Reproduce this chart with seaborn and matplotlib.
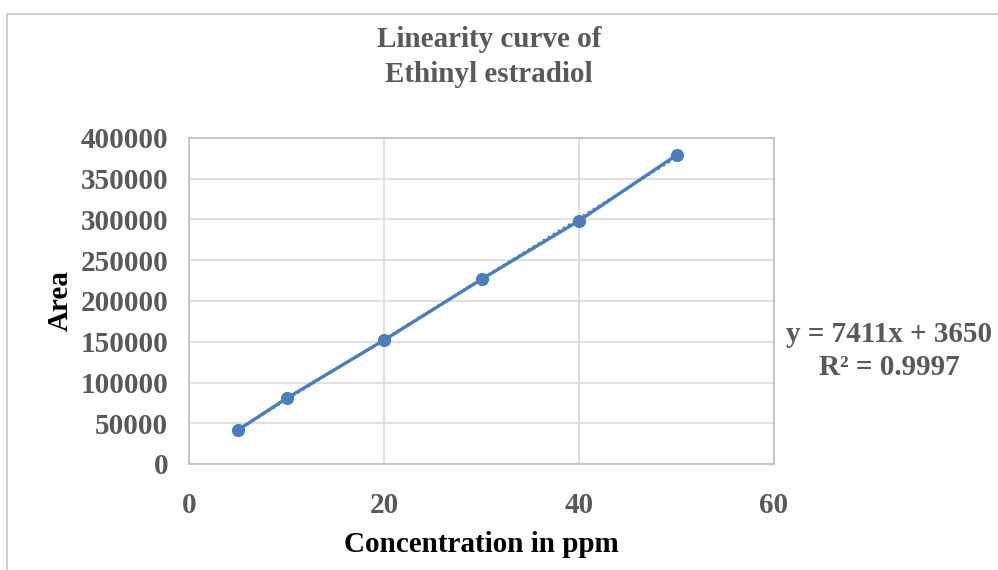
import numpy as np
import pandas as pd
import seaborn as sns
from matplotlib import pyplot as plt
from matplotlib.lines import Line2D

conc = [5, 10, 20, 30, 40, 50]
area = [41500, 80500, 152000, 226600, 298500, 379000]
yticks = [0, 50000, 100000, 150000, 200000, 250000, 300000, 350000, 400000]
xticks = [0, 20, 40, 60]

df = pd.DataFrame({'conc': conc, 'area': area})

sns.set_style('white')
plt.rcParams['font.family'] = ['Liberation Serif', 'DejaVu Serif']
plt.rcParams['font.weight'] = 'bold'

gray = '#595959'
blue = '#4a7ebb'

fig = plt.figure(figsize=(9.98, 5.70), dpi=100)
ax = fig.add_axes([189/998, 1-464/570, (774-189)/998, (464-138)/570])

# trendline (dotted), fitted from the data
slope, icpt = np.polyfit(df['conc'], df['area'], 1)
ax.plot(df['conc'], slope*df['conc']+icpt, color=blue, lw=1.6, ls=':', zorder=2)

sns.lineplot(data=df, x='conc', y='area', ax=ax, color=blue, lw=2.4,
             marker='o', markersize=9.5, markeredgewidth=0, zorder=3)

ax.set_xlim(0, 60)
ax.set_ylim(0, 400000)
ax.set_xticks(xticks)
ax.set_yticks(yticks)
ax.set_xticklabels([str(t) for t in xticks], color=gray, fontsize=21, fontweight='bold')
ax.set_yticklabels([str(t) for t in yticks], color=gray, fontsize=21, fontweight='bold')
ax.tick_params(axis='both', length=0)
ax.tick_params(axis='x', pad=20)
ax.tick_params(axis='y', pad=15)
ax.grid(True, color='#d9d9d9', lw=1.2)
for s in ax.spines.values():
    s.set_color('#bfbfbf')
    s.set_linewidth(1.2)

ax.set_xlabel('Concentration in ppm', fontsize=21, fontweight='bold', color='black', labelpad=9)
ax.set_ylabel('Area', fontsize=21, fontweight='bold', color='black', labelpad=5)

fig.text(489/998, 1-57/570, 'Linearity curve of\nEthinyl estradiol', ha='center', va='center',
         fontsize=21, fontweight='bold', color=gray, linespacing=1.4)

fig.text(889/998, 1-351/570, 'y = 7411x + 3650\nR² = 0.9997', ha='center', va='center',
         fontsize=21, fontweight='bold', color=gray, linespacing=1.3)

# outer chart frame (top and left edges visible)
fig.add_artist(Line2D([7/998, 1], [1-14/570, 1-14/570], color='#d0d0d0', lw=1.5))
fig.add_artist(Line2D([7/998, 7/998], [0, 1-14/570], color='#d0d0d0', lw=1.5))

fig.savefig('out.png', dpi=100)
